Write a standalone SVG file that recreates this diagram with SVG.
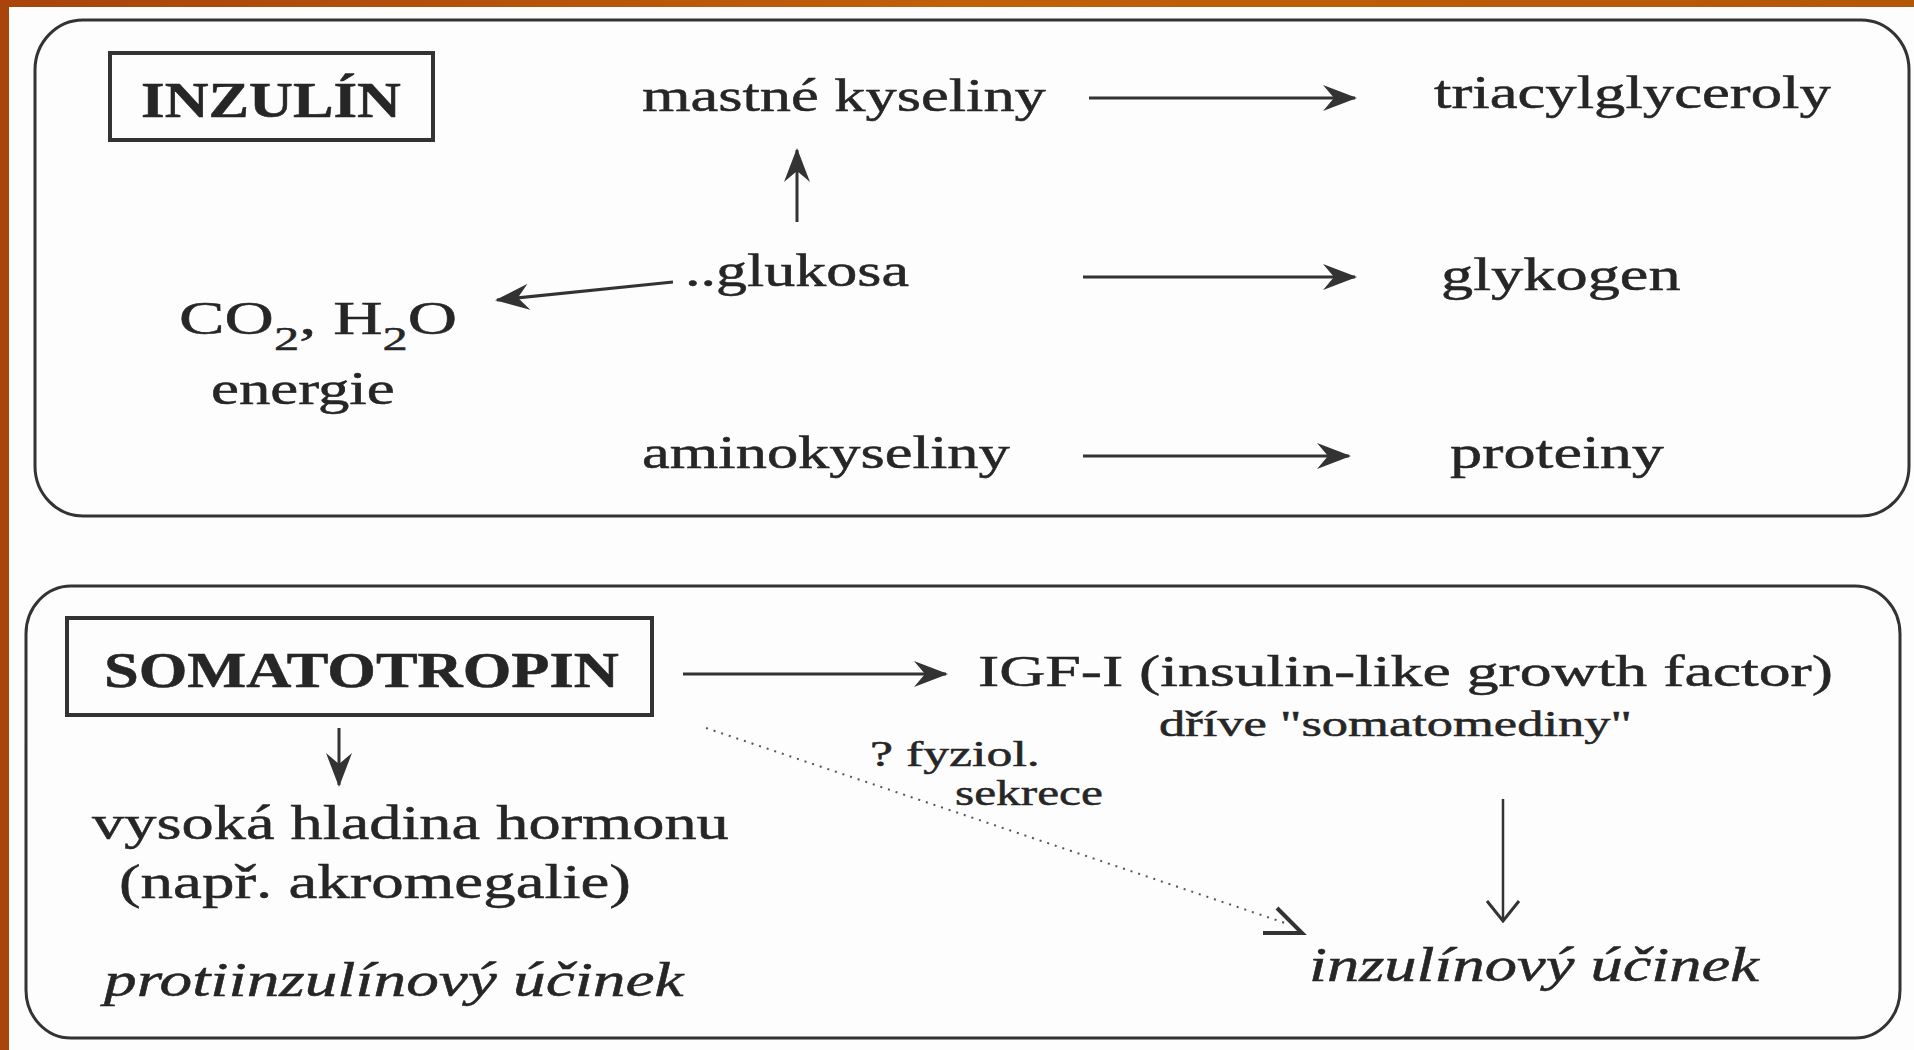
<svg xmlns="http://www.w3.org/2000/svg" width="1914" height="1050" viewBox="0 0 1914 1050">
<defs>
<linearGradient id="bg" x1="0" y1="0" x2="1" y2="0">
<stop offset="0" stop-color="#a8440c"/>
<stop offset="0.5" stop-color="#c0600a"/>
<stop offset="1" stop-color="#b4560a"/>
</linearGradient>
<marker id="ah" viewBox="0 0 34 28" refX="32" refY="14" markerWidth="34" markerHeight="28" markerUnits="userSpaceOnUse" orient="auto">
<path d="M0,1 L34,14 L0,27 L11,14 Z" fill="#333"/>
</marker>
<marker id="av" viewBox="0 0 36 24" refX="18" refY="22" markerWidth="36" markerHeight="24" markerUnits="userSpaceOnUse" orient="0">
<path d="M2,2 L18,22 L34,2" fill="none" stroke="#333" stroke-width="3"/>
</marker>
<style>
.t{font-family:"Liberation Serif","Times New Roman",serif;fill:#262626;stroke:#262626;stroke-width:0.5;}
.b{font-weight:bold;}
.i{font-style:italic;}
.box{fill:none;stroke:#333;stroke-width:3;}
.nb{fill:none;stroke:#333;stroke-width:4;}
.c{stroke:#333;stroke-width:3;fill:none;}
</style>
</defs>
<rect x="0" y="0" width="1914" height="1050" fill="url(#bg)"/>
<rect x="9" y="7" width="1905" height="1043" fill="#fdfdfd"/>

<g id="panel-inzulin">
<rect class="box" x="35" y="20" width="1874" height="496" rx="48" ry="50"/>
</g>
<g id="panel-somatotropin">
<rect class="box" x="26" y="586" width="1874" height="452" rx="45" ry="48"/>
</g>

<g id="connectors">
<line class="c" x1="1089" y1="98" x2="1355" y2="98" marker-end="url(#ah)"/>
<line class="c" x1="797" y1="222" x2="797" y2="150" marker-end="url(#ah)"/>
<line class="c" x1="673" y1="282" x2="497" y2="300" marker-end="url(#ah)"/>
<line class="c" x1="1083" y1="277" x2="1355" y2="277" marker-end="url(#ah)"/>
<line class="c" x1="1083" y1="456" x2="1349" y2="456" marker-end="url(#ah)"/>
<line class="c" x1="683" y1="674" x2="946" y2="674" marker-end="url(#ah)"/>
<line class="c" x1="339" y1="728" x2="339" y2="785" marker-end="url(#ah)"/>
<line x1="1503" y1="799" x2="1503" y2="921" stroke="#333" stroke-width="2.5" marker-end="url(#av)"/>
<line x1="706" y1="728" x2="1288" y2="924" stroke="#555" stroke-width="2" stroke-dasharray="2 6"/>
<path d="M1263,933 L1302,933 L1277,908" fill="none" stroke="#333" stroke-width="4"/>
</g>

<g id="inzulin">
<rect class="nb" x="110" y="53" width="323" height="87"/>
<text class="t b" transform="translate(141,117) scale(1.215,1)" font-size="50">INZULÍN</text>
</g>
<g id="mastne"><text class="t" transform="translate(642,111) scale(1.357,1)" font-size="46">mastné kyseliny</text></g>
<g id="triacyl"><text class="t" transform="translate(1434,108) scale(1.363,1)" font-size="46">triacylglyceroly</text></g>
<g id="glukosa"><text class="t" transform="translate(685,286) scale(1.349,1)" font-size="46">..glukosa</text></g>
<g id="glykogen"><text class="t" transform="translate(1441,290) scale(1.40,1)" font-size="46">glykogen</text></g>
<g id="co2">
<text class="t" transform="translate(179,334) scale(1.485,1)" font-size="46">CO<tspan font-size="34" dy="16">2</tspan><tspan dy="-16">, H</tspan><tspan font-size="34" dy="16">2</tspan><tspan dy="-16">O</tspan></text>
<text class="t" transform="translate(211,404) scale(1.366,1)" font-size="46">energie</text>
</g>
<g id="amino"><text class="t" transform="translate(642,468) scale(1.358,1)" font-size="46">aminokyseliny</text></g>
<g id="proteiny"><text class="t" transform="translate(1450,468) scale(1.396,1)" font-size="46">proteiny</text></g>

<g id="somatotropin">
<rect class="nb" x="67" y="618" width="585" height="97"/>
<text class="t b" transform="translate(104,687) scale(1.25,1)" font-size="50">SOMATOTROPIN</text>
</g>
<g id="igf">
<text class="t" transform="translate(978,686) scale(1.449,1)" font-size="44">IGF-I (insulin-like growth factor)</text>
<text class="t" transform="translate(1159,736) scale(1.50,1)" font-size="35">dříve "somatomediny"</text>
</g>
<g id="fyziol">
<text class="t" transform="translate(870,766) scale(1.44,1)" font-size="36">? fyziol.</text>
<text class="t" transform="translate(955,805) scale(1.37,1)" font-size="36">sekrece</text>
</g>
<g id="vysoka">
<text class="t" transform="translate(92,839) scale(1.342,1)" font-size="48">vysoká hladina hormonu</text>
<text class="t" transform="translate(119,898) scale(1.353,1)" font-size="48">(např. akromegalie)</text>
</g>
<g id="proti"><text class="t i" transform="translate(104,996) scale(1.36,1)" font-size="48">protiinzulínový účinek</text></g>
<g id="inzulinovy"><text class="t i" transform="translate(1309,981) scale(1.345,1)" font-size="48">inzulínový účinek</text></g>
</svg>
